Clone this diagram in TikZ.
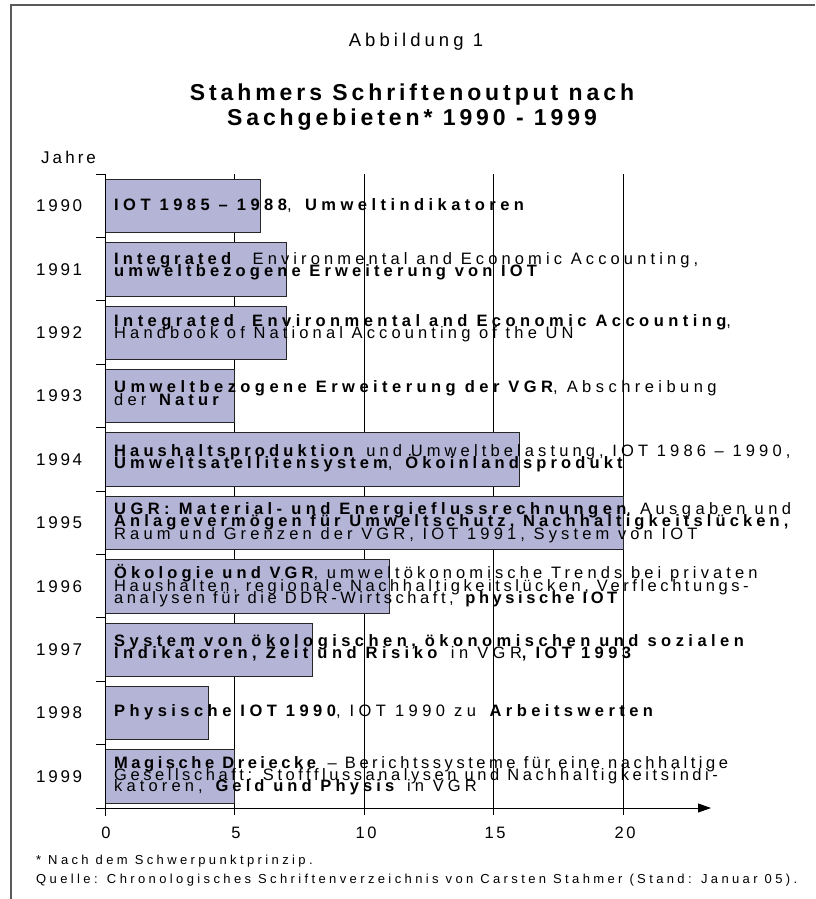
\documentclass[tikz,border=0pt]{standalone}
\usepackage{fontspec}
\setmainfont{Liberation Sans}[LetterSpace=22]
\newfontfamily\barfont{Liberation Sans}[LetterSpace=25]
\newfontfamily\barfontW{Liberation Sans}[LetterSpace=27]
\newfontfamily\barfontT{Liberation Sans}[LetterSpace=21.5]
\newfontfamily\titlefont{Liberation Sans}[LetterSpace=17]
\newfontfamily\footfont{Liberation Sans}[LetterSpace=26]
\newfontfamily\yearfont{Liberation Sans}[LetterSpace=16]
\newfontfamily\jahrefont{Liberation Sans}[LetterSpace=18]
\usetikzlibrary{arrows.meta}
\definecolor{barfill}{RGB}{180,180,214}
\definecolor{framecol}{RGB}{90,90,90}
\tikzset{
  bartext/.style={anchor=base west, inner sep=0pt, font=\barfont\fontsize{16.5}{16.5}\selectfont},
  bartextW/.style={bartext, font=\barfontW\fontsize{16.5}{16.5}\selectfont},
  bartextT/.style={bartext, font=\barfontT\fontsize{16.5}{16.5}\selectfont},
  yearlbl/.style={anchor=base west, inner sep=0pt, font=\yearfont\fontsize{17}{17}\selectfont},
  axnum/.style={anchor=base, inner sep=0pt, font=\yearfont\fontsize{16.5}{16.5}\selectfont},
  barbox/.style={draw=black!85, fill=barfill, line width=0.9pt},
  gridln/.style={draw=black, line width=0.8pt},
  axisln/.style={draw=black, line width=0.9pt},
  foot/.style={anchor=base west, inner sep=0pt, font=\footfont\fontsize{13}{13}\selectfont},
}
\begin{document}
\begin{tikzpicture}[x=1pt,y=-1pt]
\useasboundingbox (0,0) rectangle (815,899);
% frame
\draw[framecol, line width=2pt] (11,899) -- (11,5) -- (815,5);
% titles
\node[anchor=base, inner sep=0pt, font=\fontsize{18.5}{18.5}\selectfont] (abb) at (416,46.7) {Abbildung 1};
\node[anchor=base, inner sep=0pt, font=\titlefont\fontsize{23}{23}\selectfont\bfseries] (ti1) at (412,100) {Stahmers Schriftenoutput nach};
\node[anchor=base, inner sep=0pt, font=\titlefont\fontsize{23}{23}\selectfont\bfseries] (ti2) at (412,125) {Sachgebieten* 1990 - 1999};
\node[anchor=base west, inner sep=0pt, font=\jahrefont\fontsize{17}{17}\selectfont] (jahre) at (41,163) {Jahre};
% grid lines
\foreach \v in {5,10,15,20} {
  \draw[gridln] ({105+25.9*\v},174) -- ({105+25.9*\v},815);
}
% bars
\foreach \i/\v in {0/6,1/7,2/7,3/5,4/16,5/20,6/11,7/8,8/4,9/5} {
  \path[barbox] (105,{179.3+63.4*\i}) rectangle ({105+25.9*\v},{232.7+63.4*\i});
}
% axes
\coordinate (axA) at (96,808);
\coordinate (axB) at (711,808);
\coordinate (vaT) at (105,174);
\coordinate (vaB) at (105,816);
\draw[axisln] (vaT) -- (vaB);
\draw[axisln, -{Triangle[length=13pt,width=9pt]}] (axA) -- (axB);
\foreach \k in {0,...,9} {
  \draw[axisln] (96,{174+63.4*\k}) -- (105,{174+63.4*\k});
}
% axis numbers
\node[axnum] (n0) at (106,838.5) {0};
\node[axnum] (n5) at (236,838.5) {5};
\node[axnum] (n10) at (366,838.5) {10};
\node[axnum] (n15) at (495,838.5) {15};
\node[axnum] (n20) at (625,838.5) {20};
% year labels
\node[yearlbl] (y90) at (36,211.7) {1990};
\node[yearlbl] (y91) at (36,275.1) {1991};
\node[yearlbl] (y92) at (36,338.5) {1992};
\node[yearlbl] (y93) at (36,401.9) {1993};
\node[yearlbl] (y94) at (36,465.3) {1994};
\node[yearlbl] (y95) at (36,528.7) {1995};
\node[yearlbl] (y96) at (36,592.1) {1996};
\node[yearlbl] (y97) at (36,655.5) {1997};
\node[yearlbl] (y98) at (36,718.9) {1998};
\node[yearlbl] (y99) at (36,782.3) {1999};
% bar texts
\node[bartextW] (t90a) at (114,210.5) {\textbf{IOT 1985 – 1988}, \textbf{Umweltindikatoren}};
\node[bartext] (t91a) at (114,264) {\textbf{Integrated} \ Environmental and Economic Accounting,};
\node[bartext] (t91b) at (114,276.3) {\textbf{umweltbezogene Erweiterung von IOT}};
\node[bartextW] (t92a) at (114,326.7) {\textbf{Integrated \ Environmental and Economic Accounting},};
\node[bartext] (t92b) at (114,338.5) {Handbook of National Accounting of the UN};
\node[bartextW] (t93a) at (114,392.3) {\textbf{Umweltbezogene Erweiterung der VGR}, Abschreibung};
\node[bartext] (t93b) at (114,405) {der \textbf{Natur}};
\node[bartext] (t94a) at (114,456.7) {\textbf{Haushaltsproduktion} und Umweltbelastung, IOT 1986 – 1990,};
\node[bartext] (t94b) at (114,468.5) {\textbf{Umweltsatellitensystem}, \textbf{Ökoinlandsprodukt}};
\node[bartextW] (t95a) at (114,514) {\textbf{UGR: Material- und Energieflussrechnungen}, Ausgaben und};
\node[bartext] (t95b) at (114,526.7) {\textbf{Anlagevermögen für Umweltschutz, Nachhaltigkeitslücken,}};
\node[bartext] (t95c) at (114,539) {Raum und Grenzen der VGR, IOT 1991, System von IOT};
\node[bartext] (t96a) at (114,578.5) {\textbf{Ökologie und VGR}, umweltökonomische Trends bei privaten};
\node[bartextT] (t96b) at (114,591) {Haushalten, regionale Nachhaltigkeitslücken, Verflechtungs-};
\node[bartextT] (t96c) at (114,603.5) {analysen für die DDR-Wirtschaft, \textbf{physische IOT}};
\node[bartextW] (t97a) at (114,646.7) {\textbf{System von ökologischen, ökonomischen und sozialen}};
\node[bartextW] (t97b) at (114,658.5) {\textbf{Indikatoren, Zeit und Risiko} in VGR\textbf{, IOT 1993}};
\node[bartextW] (t98a) at (114,716.7) {\textbf{Physische IOT 1990}, IOT 1990 zu \textbf{Arbeitswerten}};
\node[bartextT] (t99a) at (114,768.3) {\textbf{Magische Dreiecke} – Berichtssysteme für eine nachhaltige};
\node[bartextT] (t99b) at (114,780) {Gesellschaft: Stoffflussanalysen und Nachhaltigkeitsindi-};
\node[bartext] (t99c) at (114,791.7) {katoren, \textbf{Geld und Physis} in VGR};
% footnotes
\node[foot] (f1) at (36,864) {* Nach dem Schwerpunktprinzip.};
\node[foot] (f2) at (36,883) {Quelle: Chronologisches Schriftenverzeichnis von Carsten Stahmer (Stand: Januar 05).};
\end{tikzpicture}
\end{document}
